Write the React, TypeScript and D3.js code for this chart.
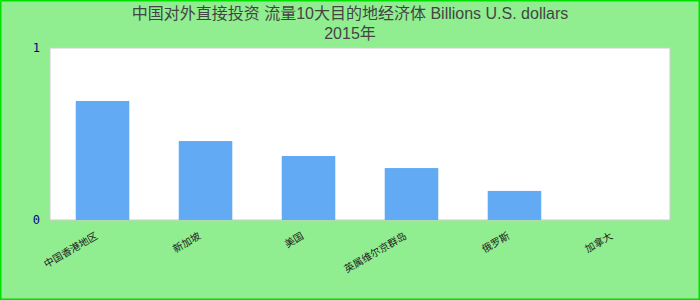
import React from "react";
import * as d3 from "d3";

const titleLines = ["中国对外直接投资 流量10大目的地经济体 Billions U.S. dollars", "2015年"];
const categories = ["中国香港地区", "新加坡", "美国", "英属维尔京群岛", "俄罗斯", "加拿大"];
const values = [0.692, 0.459, 0.372, 0.302, 0.169, 0];
const yTicks = [0, 1];

const W = 700;
const H = 300;
const plot = { left: 50, right: 670, top: 48, bottom: 220 };

export default function App() {
  const x = d3
    .scaleBand<string>()
    .domain(categories)
    .range([plot.left, plot.right])
    .paddingInner(0.48)
    .paddingOuter(0.25);
  const y = d3.scaleLinear().domain([0, 1]).range([plot.bottom, plot.top]);

  return (
    <svg
      width={W}
      height={H}
      style={{ position: "absolute", left: 0, top: 0 }}
      fontFamily="'Liberation Sans', Arial, 'Noto Sans CJK SC', sans-serif"
    >
      <rect x={0} y={0} width={W} height={H} fill="#90ee90" />
      <rect x={0.5} y={0.5} width={W - 1} height={H - 1} fill="none" stroke="#00e000" strokeWidth={2} />
      <rect
        x={plot.left}
        y={plot.top}
        width={plot.right - plot.left}
        height={plot.bottom - plot.top}
        fill="#ffffff"
        stroke="#cccccc"
        strokeWidth={1}
      />
      {titleLines.map((t, i) => (
        <text key={i} x={W / 2} y={19 + i * 20} textAnchor="middle" fontSize={16} fill="#444444">
          {t}
        </text>
      ))}
      {yTicks.map((t) => (
        <text
          key={t}
          x={40}
          y={y(t) + 4}
          textAnchor="end"
          fontSize={12}
          fontFamily="'DejaVu Sans Mono', monospace"
          fill="#00008b"
        >
          {t}
        </text>
      ))}
      {categories.map((c, i) => (
        <rect
          key={c}
          x={x(c)}
          y={y(values[i])}
          width={x.bandwidth()}
          height={plot.bottom - y(values[i])}
          fill="#63aaf5"
        />
      ))}
      {categories.map((c) => {
        const cx = (x(c) as number) + x.bandwidth() / 2 - 4;
        const cy = plot.bottom + 18;
        return (
          <text
            key={c}
            x={cx}
            y={cy}
            textAnchor="end"
            fontSize={10}
            fill="#222222"
            transform={`rotate(-30 ${cx} ${cy})`}
          >
            {c}
          </text>
        );
      })}
    </svg>
  );
}
